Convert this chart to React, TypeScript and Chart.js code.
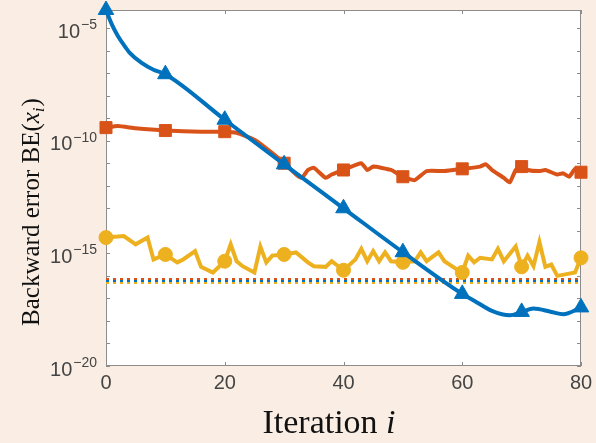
import { useEffect, useRef } from "react";
import { Chart, registerables } from "chart.js";
Chart.register(...registerables);

// Iteration numbers and log10 of backward error
const blueIter = [0, 1, 2, 3, 4, 6, 8, 10, 20, 30, 40, 50, 60, 62, 65, 68, 70, 72, 75, 77, 80];
const blueExp = [-4.2, -4.85, -5.35, -5.75, -6.1, -6.55, -6.85, -7.05, -9.07, -11.05, -13.0, -14.95, -16.8, -17.1, -17.55, -17.75, -17.6, -17.45, -17.6, -17.7, -17.4];

const orangeIter = [0, 2, 5, 10, 16, 20, 22, 25, 28, 30, 32, 33, 34, 35, 37, 38, 40, 43, 44, 45, 48, 50, 52, 54, 57, 60, 63, 64, 65, 67, 68, 69, 70, 71, 73, 74, 76, 77, 78, 79, 80];
const orangeExp = [-9.42, -9.35, -9.45, -9.55, -9.6, -9.6, -9.65, -9.96, -10.55, -11.0, -11.5, -11.65, -11.3, -11.2, -11.65, -11.5, -11.3, -11.0, -11.3, -11.15, -11.3, -11.6, -11.75, -11.35, -11.35, -11.25, -11.15, -11.05, -11.3, -11.65, -11.85, -11.3, -11.15, -11.3, -11.35, -11.3, -11.5, -11.45, -11.6, -11.25, -11.4];

const yellowIter = [0, 3, 5, 7, 8, 10, 12, 13, 15, 16, 18, 20, 21, 22, 23, 25, 26, 27, 28, 30, 32, 34, 35, 37, 38, 40, 42, 43, 44, 45, 46, 47, 48, 50, 52, 53, 54, 56, 57, 59, 60, 61, 62, 63, 65, 66, 67, 69, 70, 71, 72, 73, 74, 75, 76, 78, 79, 80];
const yellowExp = [-14.3, -14.23, -14.6, -14.3, -15.27, -15.05, -15.4, -15.27, -14.9, -15.6, -15.85, -15.35, -14.6, -15.35, -15.57, -15.85, -14.7, -15.4, -15.1, -15.05, -14.96, -15.4, -15.57, -15.6, -15.35, -15.75, -15.27, -14.8, -15.35, -14.9, -15.35, -14.96, -15.35, -15.4, -15.35, -14.96, -15.35, -14.96, -15.35, -15.7, -15.85, -15.1, -15.4, -15.2, -15.27, -14.8, -15.35, -14.7, -15.6, -15.1, -15.57, -14.5, -15.6, -15.5, -16.0, -15.9, -15.85, -15.2];

// Dotted reference levels (log10)
const refExpOrange = -16.14;
const refExpBlue = -16.23;
const refExpYellow = -16.32;

const xTicks = [0, 20, 40, 60, 80];
const yLabelExps = [-5, -10, -15, -20];
const xMin = 0, xMax = 80;
const yMinExp = -20, yMaxExp = -4.2;

const BLUE = "#0072BD";
const ORANGE = "#D95319";
const YELLOW = "#EDB120";
const BG = "#FAEEE4";

const pts = (xs: number[], es: number[]) => xs.map((x, i) => ({ x, y: Math.pow(10, es[i]) }));
const hline = (e: number) => [{ x: xMin, y: Math.pow(10, e) }, { x: xMax, y: Math.pow(10, e) }];
const markR = (r: number) => (c: any) => (c.raw && c.raw.x % 10 === 0 ? r : 0);

const decor = {
  id: "decor",
  beforeDraw(chart: any) {
    const { ctx, chartArea: a, width, height } = chart;
    ctx.save();
    ctx.fillStyle = BG;
    ctx.fillRect(0, 0, width, height);
    ctx.fillStyle = "#ffffff";
    ctx.fillRect(a.left, a.top, a.right - a.left, a.bottom - a.top);
    ctx.restore();
  },
  beforeDatasetsDraw(chart: any) {
    const { ctx, chartArea: a, scales } = chart;
    const xs = scales.x, ys = scales.y;
    ctx.save();
    ctx.strokeStyle = "#8c8c8c";
    ctx.lineWidth = 1;
    ctx.strokeRect(a.left + 0.5, a.top + 0.5, a.right - a.left - 1, a.bottom - a.top - 1);
    ctx.beginPath();
    for (const t of xTicks) {
      const px = Math.round(xs.getPixelForValue(t)) + 0.5;
      ctx.moveTo(px, a.bottom); ctx.lineTo(px, a.bottom - 4);
      ctx.moveTo(px, a.top); ctx.lineTo(px, a.top + 4);
    }
    for (let k = yMinExp; k <= Math.floor(yMaxExp); k++) {
      const py = Math.round(ys.getPixelForValue(Math.pow(10, k))) + 0.5;
      ctx.moveTo(a.left, py); ctx.lineTo(a.left + 4, py);
      ctx.moveTo(a.right, py); ctx.lineTo(a.right - 4, py);
    }
    ctx.stroke();

    // tick labels
    ctx.fillStyle = "#444444";
    ctx.textBaseline = "middle";
    ctx.textAlign = "center";
    ctx.font = "20px 'Liberation Sans', Arial, sans-serif";
    for (const t of xTicks) {
      ctx.fillText(String(t), xs.getPixelForValue(t), a.bottom + 17);
    }
    ctx.textAlign = "right";
    for (const k of yLabelExps) {
      const py = ys.getPixelForValue(Math.pow(10, k));
      const sup = "\u2212" + String(-k);
      ctx.font = "14px 'Liberation Sans', Arial, sans-serif";
      const sw = ctx.measureText(sup).width;
      const right = a.left - 9;
      ctx.fillText(sup, right, py - 3);
      ctx.font = "20px 'Liberation Sans', Arial, sans-serif";
      ctx.fillText("10", right - sw - 1, py + 4);
    }

    // x title
    ctx.fillStyle = "#111111";
    ctx.textBaseline = "alphabetic";
    ctx.textAlign = "left";
    const f1 = "34px 'Liberation Serif', 'Times New Roman', serif";
    const f1i = "italic 34px 'Liberation Serif', 'Times New Roman', serif";
    ctx.font = f1;
    const w1 = ctx.measureText("Iteration ").width;
    ctx.font = f1i;
    const w2 = ctx.measureText("i").width;
    const sx = 329 - (w1 + w2) / 2;
    ctx.font = f1;
    ctx.fillText("Iteration ", sx, 433);
    ctx.font = f1i;
    ctx.fillText("i", sx + w1, 433);

    // y title, rotated
    ctx.save();
    ctx.translate(39, 212);
    ctx.rotate(-Math.PI / 2);
    const g = "25px 'Liberation Serif', 'Times New Roman', serif";
    const gi = "italic 25px 'Liberation Serif', 'Times New Roman', serif";
    const gs = "italic 17px 'Liberation Serif', 'Times New Roman', serif";
    const parts: [string, string, number][] = [
      ["Backward error BE(", g, 0],
      ["x", gi, 0],
      ["i", gs, 5],
      [")", g, 0],
    ];
    let total = 0;
    for (const [s, f] of parts) { ctx.font = f; total += ctx.measureText(s).width + (s === "i" ? 1 : 0); }
    let cx = -total / 2;
    for (const [s, f, dy] of parts) {
      ctx.font = f;
      ctx.fillText(s, cx, dy);
      cx += ctx.measureText(s).width + (s === "i" ? 1 : 0);
    }
    ctx.restore();
    ctx.restore();
  },
};

export default function App() {
  const ref = useRef<HTMLCanvasElement>(null);
  useEffect(() => {
    document.body.style.margin = "0";
    document.body.style.background = BG;
    const canvas = ref.current!;
    const chart = new Chart(canvas, {
      type: "line",
      data: {
        datasets: [
          {
            data: pts(blueIter, blueExp),
            borderColor: BLUE, backgroundColor: BLUE, borderWidth: 4,
            pointStyle: "triangle", pointRadius: markR(9), pointHoverRadius: 0,
            pointBorderWidth: 1, cubicInterpolationMode: "monotone", clip: false as any,
          },
          {
            data: pts(orangeIter, orangeExp),
            borderColor: ORANGE, backgroundColor: ORANGE, borderWidth: 4,
            pointStyle: "rect", pointRadius: markR(8.5), pointBorderWidth: 1, tension: 0.15, clip: false as any,
          },
          {
            data: pts(yellowIter, yellowExp),
            borderColor: YELLOW, backgroundColor: YELLOW, borderWidth: 4,
            pointStyle: "circle", pointRadius: markR(7), pointBorderWidth: 1, tension: 0, clip: false as any,
          },
          { data: hline(refExpOrange), borderColor: ORANGE, borderWidth: 2, borderDash: [3, 4], pointRadius: 0 },
          { data: hline(refExpBlue), borderColor: BLUE, borderWidth: 2, borderDash: [3, 4], pointRadius: 0 },
          { data: hline(refExpYellow), borderColor: YELLOW, borderWidth: 2, borderDash: [3, 4], pointRadius: 0 },
        ],
      },
      options: {
        responsive: false,
        animation: false,
        layout: { padding: { left: 106, right: 15, top: 10, bottom: 77 } },
        plugins: { legend: { display: false }, tooltip: { enabled: false } },
        events: [],
        scales: {
          x: { type: "linear", min: xMin, max: xMax, display: false },
          y: { type: "logarithmic", min: Math.pow(10, yMinExp), max: Math.pow(10, yMaxExp), display: false },
        },
      },
      plugins: [decor],
    });
    return () => chart.destroy();
  }, []);
  return (
    <div style={{ width: 596, height: 443, background: BG }}>
      <canvas ref={ref} width={596} height={443} />
    </div>
  );
}
